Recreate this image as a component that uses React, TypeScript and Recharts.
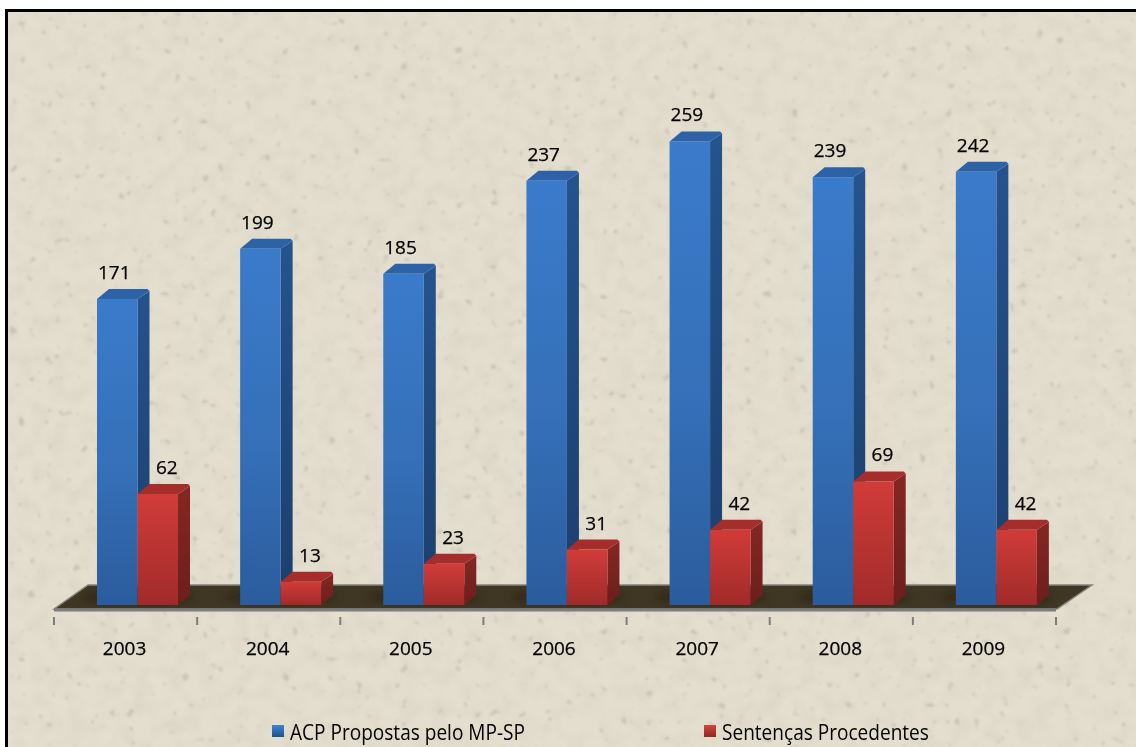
import { Bar, BarChart, LabelList, Legend, XAxis, YAxis, usePlotArea } from 'recharts'

const years = ['2003', '2004', '2005', '2006', '2007', '2008', '2009']
const acpPropostas = [171, 199, 185, 237, 259, 239, 242]
const sentencas = [62, 13, 23, 31, 42, 69, 42]

const chartData = years.map((year, i) => ({
  year,
  acp: acpPropostas[i],
  sentencas: sentencas[i],
}))

const W = 1136
const H = 747
const FONT = '"Open Sans", sans-serif'
const LEFT = 54
const RIGHT = 80
const BAND = (W - LEFT - RIGHT) / years.length
// the bars stand in the middle of the 3d floor, not on its front edge
const SHIFT_X = 12
const SHIFT_Y = -5
const DEPTH_X = 12
const DEPTH_Y = 10

type BarShapeProps = { x?: number; y?: number; width?: number; height?: number }

const makeBar = (front: string, side: string, top: string) => (props: BarShapeProps) => {
  const x = (props.x ?? 0) + SHIFT_X
  const y = (props.y ?? 0) + SHIFT_Y
  const w = props.width ?? 0
  const h = props.height ?? 0
  const r = x + w
  const b = y + h
  return (
    <g>
      <path
        d={`M${r} ${y}L${r + DEPTH_X} ${y - DEPTH_Y + 2}L${r + DEPTH_X} ${b - DEPTH_Y}L${r} ${b}Z`}
        fill={`url(#${side})`}
      />
      <path
        d={`M${x} ${y}L${x + DEPTH_X} ${y - DEPTH_Y}L${r + DEPTH_X - 2} ${y - DEPTH_Y}L${r + DEPTH_X} ${y - DEPTH_Y + 2}L${r} ${y}Z`}
        fill={top}
      />
      <rect x={x} y={y} width={w} height={h} fill={`url(#${front})`} />
    </g>
  )
}

const BlueBar = makeBar('blueFront', 'blueSide', '#2d63a6')
const RedBar = makeBar('redFront', 'redSide', '#a52e2b')

const makeLabel = (offset: number) => (props: any) => (
  <text
    x={props.x + props.width / 2 + SHIFT_X + offset}
    y={props.y + SHIFT_Y - 20}
    textAnchor="middle"
    fontFamily={FONT}
    fontSize={19}
    fill="#000"
    stroke="#000"
    strokeWidth={0.25}
  >
    {props.value}
  </text>
)

function Floor() {
  const plot = usePlotArea()
  if (!plot) return null
  const bottom = plot.y + plot.height
  const l = plot.x
  const r = plot.x + plot.width + 1
  return (
    <g>
      <path
        d={`M${l} ${bottom - 1}L${l + 34} ${bottom - 25}L${r + 35} ${bottom - 25}L${r} ${bottom - 1}Z`}
        fill="#3f3723"
        stroke="#85837e"
        strokeWidth={1.5}
      />
      {years.map((y, i) => (
        <ellipse
          key={y}
          cx={l + BAND * (i + 0.5) + SHIFT_X}
          cy={bottom - 13}
          rx={56}
          ry={4}
          fill="#15110a"
          opacity={0.55}
          filter="url(#soft)"
        />
      ))}
    </g>
  )
}

function YearTick(props: any) {
  const { x, y, payload, index } = props
  const edge = x - BAND / 2
  return (
    <g>
      <line x1={edge} x2={edge} y1={y - 1} y2={y + 7} stroke="#7d7d7d" strokeWidth={2} />
      {index === years.length - 1 && (
        <line x1={x + BAND / 2} x2={x + BAND / 2} y1={y - 1} y2={y + 7} stroke="#7d7d7d" strokeWidth={2} />
      )}
      <text
        x={x - 1}
        y={y + 37}
        textAnchor="middle"
        fontFamily={FONT}
        fontSize={19}
        fill="#000"
        stroke="#000"
        strokeWidth={0.25}
      >
        {payload.value}
      </text>
    </g>
  )
}

const legendPos = [
  { marker: 272, text: 290, scale: 0.866, top: 'linear-gradient(#3f83d6, #1f4f8f)' },
  { marker: 704, text: 722, scale: 0.866, top: 'linear-gradient(#d8433f, #8f2624)' },
]

function ChartLegend({ payload }: any) {
  return (
    <div style={{ position: 'relative', width: W, height: 30 }}>
      {(payload ?? []).map((entry: any, i: number) => (
        <div key={entry.value}>
          <span
            style={{
              position: 'absolute',
              left: legendPos[i].marker,
              top: 7,
              width: 12,
              height: 12,
              background: legendPos[i].top,
            }}
          />
          <span
            style={{
              position: 'absolute',
              left: legendPos[i].text,
              top: 0,
              fontFamily: FONT,
              fontSize: 22,
              lineHeight: '26px',
              color: '#000',
              whiteSpace: 'nowrap',
              transform: `scaleX(${legendPos[i].scale})`,
              transformOrigin: 'left',
            }}
          >
            {entry.value}
          </span>
        </div>
      ))}
    </div>
  )
}

function Paper() {
  return (
    <svg width={W} height={H} style={{ position: 'absolute', left: 0, top: 0 }}>
      <defs>
        <filter id="mottle" x="0" y="0" width="100%" height="100%">
          <feTurbulence type="fractalNoise" baseFrequency="0.06" numOctaves={3} seed={7} />
          <feColorMatrix values="0 0 0 0 0.55  0 0 0 0 0.5  0 0 0 0 0.42  1.4 0 0 0 -0.55" />
          <feGaussianBlur stdDeviation={1.5} />
        </filter>
        <filter id="specks" x="0" y="0" width="100%" height="100%">
          <feTurbulence type="fractalNoise" baseFrequency="0.11" numOctaves={2} seed={21} />
          <feColorMatrix values="0 0 0 0 0.35  0 0 0 0 0.32  0 0 0 0 0.28  9 0 0 0 -6.2" />
          <feGaussianBlur stdDeviation={1} />
        </filter>
      </defs>
      <rect x={5} y={9} width={W} height={H} fill="#e4decf" />
      <rect x={8} y={11} width={W} height={H} filter="url(#mottle)" opacity={0.3} />
      <rect x={8} y={11} width={W} height={H} filter="url(#specks)" opacity={0.35} />
      <rect x={5} y={9} width={3} height={H} fill="#000" />
      <rect x={5} y={9} width={W} height={3} fill="#000" />
    </svg>
  )
}

export default function App() {
  return (
    <div style={{ position: 'absolute', left: 0, top: 0, width: W, height: H, overflow: 'hidden', background: '#fff' }}>
      <Paper />
      <div style={{ position: 'absolute', left: 0, top: 0, filter: 'blur(0.4px)' }}>
        <BarChart
          width={W}
          height={H}
          data={chartData}
          margin={{ top: 73, right: RIGHT, left: LEFT, bottom: 97 }}
          barSize={40.5}
          barGap={0}
        >
          <defs>
            <linearGradient id="blueFront" x1="0" y1="0" x2="0" y2="1">
              <stop offset="0%" stopColor="#3b7bcb" />
              <stop offset="55%" stopColor="#3570b8" />
              <stop offset="100%" stopColor="#2b5c9d" />
            </linearGradient>
            <linearGradient id="blueSide" x1="0" y1="0" x2="0" y2="1">
              <stop offset="0%" stopColor="#25538d" />
              <stop offset="100%" stopColor="#1c3e6c" />
            </linearGradient>
            <linearGradient id="redFront" x1="0" y1="0" x2="0" y2="1">
              <stop offset="0%" stopColor="#d03c39" />
              <stop offset="100%" stopColor="#a02b2a" />
            </linearGradient>
            <linearGradient id="redSide" x1="0" y1="0" x2="0" y2="1">
              <stop offset="0%" stopColor="#852723" />
              <stop offset="100%" stopColor="#6b1f1d" />
            </linearGradient>
            <filter id="soft" x="-30%" y="-100%" width="160%" height="300%">
              <feGaussianBlur stdDeviation={4} />
            </filter>
          </defs>
          <Floor />
          <XAxis
            dataKey="year"
            height={40}
            interval={0}
            axisLine={{ stroke: '#7d7d7d', strokeWidth: 3 }}
            tickLine={false}
            tick={YearTick}
          />
          <YAxis hide domain={[0, 300]} />
          <Legend
            layout="vertical"
            align="center"
            verticalAlign="middle"
            wrapperStyle={{ position: 'absolute', left: 0, top: 718, width: W, margin: 0 }}
            content={ChartLegend}
          />
          <Bar dataKey="acp" name="ACP Propostas pelo MP-SP" fill="#3570b8" shape={BlueBar} isAnimationActive={false}>
            <LabelList dataKey="acp" content={makeLabel(-3)} />
          </Bar>
          <Bar dataKey="sentencas" name="Sentenças Procedentes" fill="#c63a37" shape={RedBar} isAnimationActive={false}>
            <LabelList dataKey="sentencas" content={makeLabel(9)} />
          </Bar>
        </BarChart>
      </div>
    </div>
  )
}
